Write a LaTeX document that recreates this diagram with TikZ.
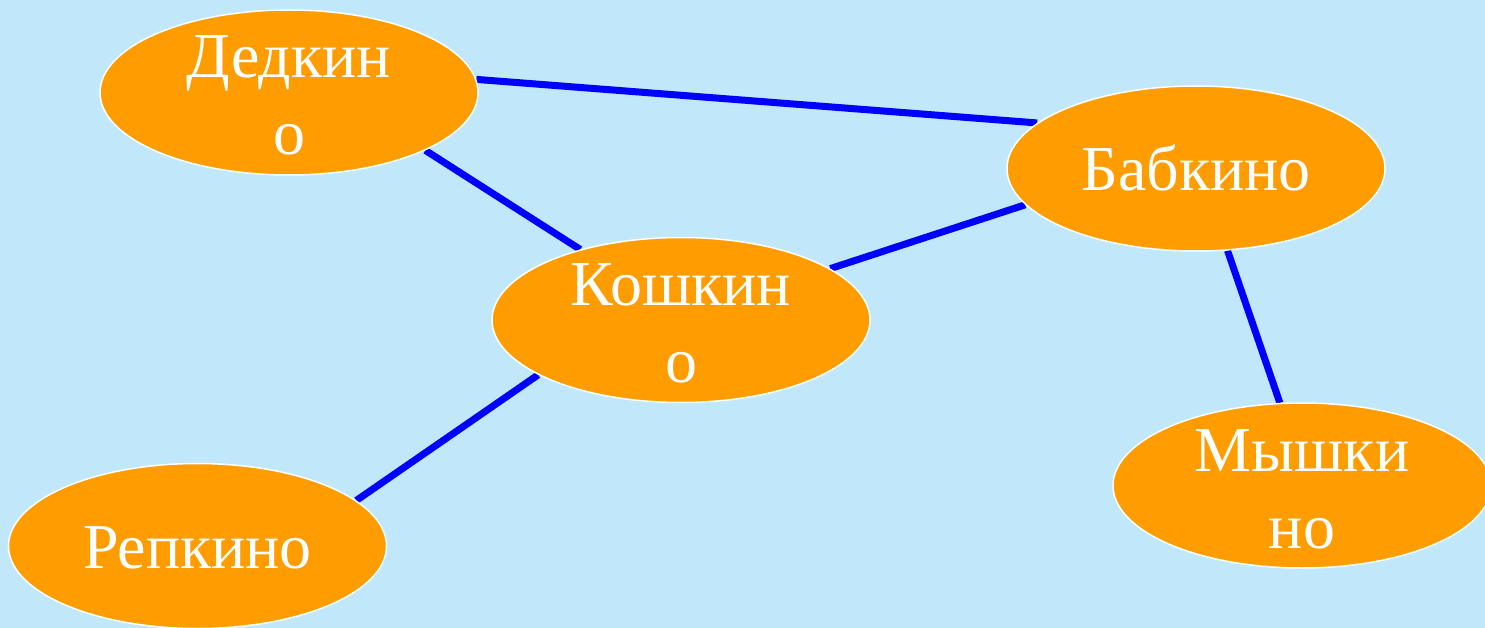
\documentclass[tikz,border=0pt]{standalone}
\usepackage{fontspec}
\setmainfont{Liberation Serif}
\usetikzlibrary{shapes.geometric,calc}
\definecolor{bgblue}{HTML}{C1E7FA}
\definecolor{orangefill}{HTML}{FF9C00}
\definecolor{edgeblue}{HTML}{0000FF}
\pgfdeclarelayer{bg}
\pgfdeclarelayer{edges}
\pgfsetlayers{bg,edges,main}
\begin{document}
\begin{tikzpicture}[x=1pt,y=-1pt,
  place/.style={ellipse,draw=white,line width=1.5pt,fill=orangefill,
    minimum width=378pt,minimum height=165pt,inner sep=0pt},
  lbl/.style={anchor=base,text=white,inner sep=0pt,
    font=\fontsize{64}{77}\selectfont},
  link/.style={draw=edgeblue,line width=7pt}]
\begin{pgfonlayer}{bg}
\fill[bgblue] (0,0) rectangle (1485,628);
\end{pgfonlayer}
\useasboundingbox (0,0) rectangle (1485,628);
\clip (0,0) rectangle (1485,628);
\node[place] (ded) at (289,92.5) {};
\node[place] (bab) at (1196,168.5) {};
\node[place] (kosh) at (681,320) {};
\node[place] (rep) at (197.5,546) {};
\node[place] (mysh) at (1302,485.5) {};
\node[lbl] (ded1) at ($(ded.center)+(0,-14.5)$) {Дедкин};
\node[lbl] (ded2) at ($(ded.center)+(0,62.5)$) {о};
\node[lbl] (bab1) at ($(bab.center)+(0,22)$) {Бабкино};
\node[lbl] (kosh1) at ($(kosh.center)+(0,-14.5)$) {Кошкин};
\node[lbl] (kosh2) at ($(kosh.center)+(0,62.5)$) {о};
\node[lbl] (rep1) at ($(rep.center)+(0,22.5)$) {Репкино};
\node[lbl] (mysh1) at ($(mysh.center)+(0,-14.5)$) {Мышки};
\node[lbl] (mysh2) at ($(mysh.center)+(0,62.5)$) {но};
\begin{pgfonlayer}{edges}
\draw[link] (ded.4.8) -- (bab.164.7);
\draw[link] (ded.-23.6) -- (kosh.145.3);
\draw[link] (kosh.19.2) -- (bab.192.2);
\draw[link] (kosh.201.3) -- (rep.16.1);
\draw[link] (bab.-69.2) -- (mysh.105.3);
\end{pgfonlayer}
\end{tikzpicture}
\end{document}
